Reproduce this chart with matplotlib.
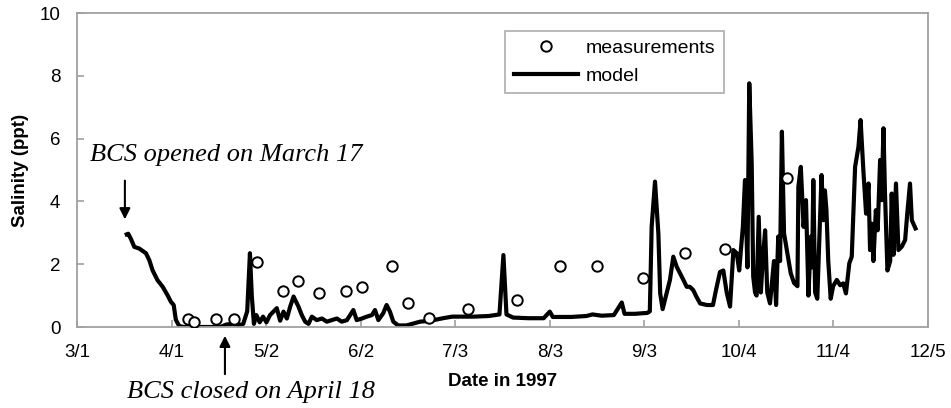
import matplotlib.pyplot as plt

# x = days since March 1, 1997
tick_days = [0, 31, 62, 93, 124, 155, 186, 217, 248, 279]
tick_labels = ["3/1", "4/1", "5/2", "6/2", "7/3", "8/3", "9/3", "10/4", "11/4", "12/5"]

meas_days = [36.3, 38.4, 45.5, 51.5, 59.1, 67.4, 72.4, 79.3, 88.3, 93.3, 103.4,
             108.5, 115.4, 128.3, 144.2, 158.4, 170.4, 185.5, 199.4, 212.5, 232.9]
meas_sal = [0.25, 0.16, 0.25, 0.25, 2.06, 1.16, 1.46, 1.07, 1.16, 1.26, 1.95,
            0.77, 0.30, 0.57, 0.86, 1.95, 1.95, 1.57, 2.37, 2.47, 4.76]

model_days = [
    16.3, 16.8, 17.7, 18.8, 20.4, 22.6, 23.7, 24.8, 26.4, 28.1, 29.7, 30.8, 31.7,
    32.4, 33.5, 35.1, 40.0, 47.0, 49.0, 51.0, 53.0, 54.5, 55.8, 56.7, 57.3, 58.0,
    58.8, 59.9, 61.0, 62.1, 63.3, 64.4, 65.5, 66.6, 67.7, 68.8, 69.9, 71.0, 71.8,
    72.6, 73.7, 74.8, 75.9, 77.0, 78.6, 80.3, 81.9, 83.5, 85.2, 86.8, 88.5, 90.6,
    91.7, 93.4, 95.0, 96.7, 97.7, 98.8, 100.4, 101.5, 102.6, 103.7, 105.3, 108.0,
    112.5, 116.0, 120.0, 123.0, 130.0, 135.0, 138.5, 139.8, 140.8, 143.0, 148.0,
    153.0, 155.0, 156.0, 162.0, 167.0, 169.0, 172.0, 176.0, 178.6, 179.5, 183.0,
    187.0, 187.8, 188.4, 189.5, 190.6, 191.2, 192.0, 194.4, 195.5, 196.6, 197.7,
    198.8, 199.9, 200.9, 202.0, 203.1, 204.3, 206.5, 208.5, 209.5, 210.8, 211.9,
    213.0, 214.1, 215.2, 216.3, 217.1, 218.3, 219.0, 219.8, 220.4, 221.2, 221.7,
    222.3, 222.8, 223.5, 224.2, 224.8, 225.6, 226.3, 227.2, 228.5, 229.2, 229.9,
    230.5, 231.1, 231.8, 232.9, 234.0, 235.1, 236.2, 236.5, 237.3, 238.2, 239.0,
    239.8, 240.6, 241.0, 241.4, 242.0, 242.7, 244.1, 244.7, 245.2, 245.7, 246.3,
    247.1, 247.9, 249.1, 250.2, 251.2, 252.1, 253.2, 254.0, 255.1, 256.2, 256.9,
    257.8, 258.7, 259.5, 260.0, 260.6, 261.1, 261.9, 262.5, 263.3, 263.8, 264.4,
    264.9, 265.7, 266.6, 267.1, 267.7, 268.5, 269.3, 270.4, 271.5, 272.2, 273.1,
    273.7, 274.9,
]
model_sal = [
    2.95, 2.97, 2.80, 2.55, 2.50, 2.35, 2.13, 1.80, 1.49, 1.28, 1.01, 0.80, 0.70,
    0.23, 0.03, 0.00, 0.00, 0.00, 0.08, 0.10, 0.05, 0.10, 0.50, 2.35, 1.00, 0.10,
    0.38, 0.15, 0.33, 0.15, 0.38, 0.49, 0.60, 0.20, 0.49, 0.27, 0.65, 0.97, 0.81,
    0.65, 0.38, 0.17, 0.10, 0.33, 0.22, 0.27, 0.17, 0.22, 0.27, 0.17, 0.22, 0.54,
    0.22, 0.27, 0.33, 0.38, 0.54, 0.22, 0.44, 0.70, 0.49, 0.17, 0.05, 0.05,
    0.17, 0.20, 0.28, 0.33, 0.33, 0.35, 0.40, 2.29, 0.40, 0.30, 0.28,
    0.28, 0.49, 0.32, 0.32, 0.35, 0.40, 0.36, 0.38, 0.78, 0.42, 0.42,
    0.45, 0.50, 3.19, 4.63, 2.98, 1.07, 0.57, 1.50, 2.24, 1.92, 1.71,
    1.50, 1.28, 1.28, 1.18, 0.96, 0.75, 0.70, 0.70, 1.18, 1.75, 1.80,
    1.10, 0.65, 2.45, 2.35, 1.80, 3.19, 4.68, 1.90, 7.76, 5.21, 1.60,
    1.10, 1.00, 3.51, 1.10, 2.10, 3.08, 1.10, 0.75, 2.10, 0.70, 2.88,
    2.10, 6.22, 2.98, 2.35, 1.71, 1.40, 1.30, 4.47, 5.10, 3.19, 4.04,
    1.00, 2.88, 1.90, 4.68, 1.10, 0.90, 4.84, 3.40, 4.35, 3.72, 2.10,
    0.90, 1.30, 1.50, 1.33, 1.39, 1.07, 2.03, 2.24, 5.10, 5.74, 6.59,
    5.00, 3.61, 4.57, 2.45, 3.29, 2.10, 3.72, 3.08, 5.32, 4.04, 6.33,
    4.25, 1.80, 2.10, 4.25, 2.30, 4.57, 2.45, 2.56, 2.77, 3.61, 4.57,
    3.40, 3.14,
]

plt.rcParams["font.family"] = ["Liberation Sans", "DejaVu Sans"]

fig = plt.figure(figsize=(9.51, 4.08), dpi=100)
ax = fig.add_axes([77 / 951, 81 / 408, 851 / 951, 314 / 408])

ax.plot(meas_days, meas_sal, "o", ms=7.5, mfc="white", mec="black", mew=1.4,
        label="measurements", zorder=3)
ax.plot(model_days, model_sal, color="black", lw=3.0, solid_joinstyle="round",
        label="model", zorder=2)

ax.set_xlim(0, 279)
ax.set_ylim(0, 10)
ax.set_xticks(tick_days)
ax.set_xticklabels(tick_labels)
ax.set_yticks([0, 2, 4, 6, 8, 10])

for s in ax.spines.values():
    s.set_color("#a0a0a0")
    s.set_linewidth(1.3)
ax.tick_params(axis="both", direction="in", length=5, width=1.2, color="#a0a0a0",
               labelsize=13.5)
ax.tick_params(axis="x", pad=12)
ax.tick_params(axis="y", pad=12)

ax.set_xlabel("Date in 1997", fontsize=13.5, fontweight="bold")
ax.set_ylabel("Salinity (ppt)", fontsize=13.5, fontweight="bold")
ax.xaxis.set_label_coords(0.5, -0.145)
ax.yaxis.set_label_coords(-0.056, 0.5)

leg = ax.legend(loc="upper left", bbox_to_anchor=(0.503, 0.943), fontsize=14,
                frameon=True, fancybox=False, handlelength=3.3, handletextpad=0.4,
                borderpad=0.45, labelspacing=0.5, borderaxespad=0)
leg.get_frame().set_edgecolor("#a0a0a0")
leg.get_frame().set_linewidth(1.3)

serif = ["Liberation Serif", "DejaVu Serif"]
ax.annotate("", xy=(15.7, 3.34), xytext=(15.7, 4.75),
            arrowprops=dict(arrowstyle="-|>", lw=1.5, color="black", mutation_scale=16))
ax.text(4.3, 5.48, "BCS opened on March 17", family=serif, style="italic",
        fontsize=19, ha="left", va="center")

ax.annotate("", xy=(48.5, -0.19), xytext=(48.5, -1.59), annotation_clip=False,
            arrowprops=dict(arrowstyle="-|>", lw=1.5, color="black", mutation_scale=16))
ax.text(57.0, -2.07, "BCS closed on April 18", family=serif, style="italic",
        fontsize=19, ha="center", va="center", clip_on=False)

fig.savefig("out.png", dpi=100)
